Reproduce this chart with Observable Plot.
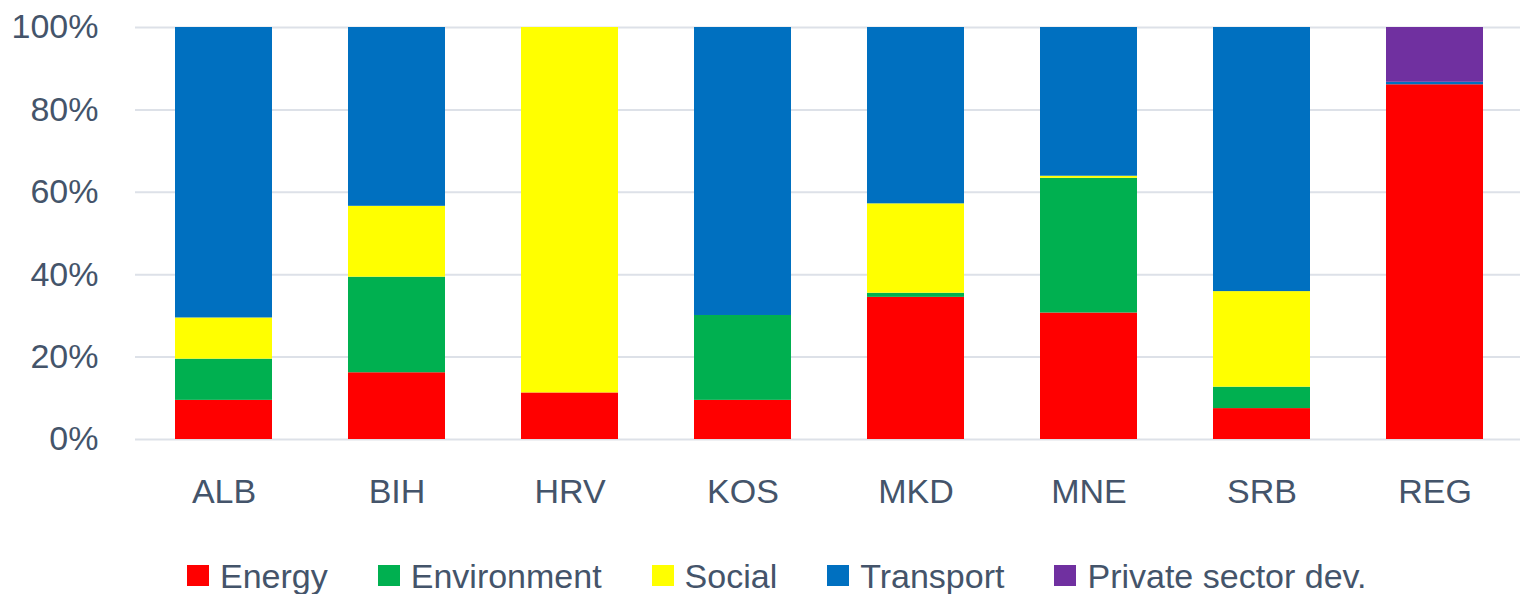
<!DOCTYPE html>
<html>
<head>
<meta charset="utf-8">
<script src="https://cdn.jsdelivr.net/npm/d3@7"></script>
<script src="https://cdn.jsdelivr.net/npm/@observablehq/plot@0.6"></script>
<style>
  html, body { margin: 0; padding: 0; background: #fff; }
  body { width: 1520px; height: 594px; overflow: hidden; font-family: "Liberation Sans", Arial, sans-serif; }
  #chart svg { display: block; }
  #legend { display: flex; align-items: center; margin-left: 187px; margin-top: 38px; color: #44546A; font-size: 34px; line-height: 1; height: 35px; }
  .item { display: flex; align-items: center; margin-right: 50px; }
  .sw { width: 22px; height: 21px; margin-right: 11px; }
</style>
</head>
<body>
<div id="chart"></div>
<div id="legend"></div>
<script>
const countries = ["ALB", "BIH", "HRV", "KOS", "MKD", "MNE", "SRB", "REG"];
const sectors = ["Energy", "Environment", "Social", "Transport", "Private sector dev."];
const colors = ["#FF0000", "#00B050", "#FFFF00", "#0070C0", "#7030A0"];
const energy      = [9.5, 16.2, 11.3, 9.5, 34.5, 30.7, 7.5, 86.1];
const environment = [10.0, 23.2, 0, 20.6, 1.0, 32.7, 5.2, 0];
const social      = [10.0, 17.2, 88.7, 0, 21.7, 0.5, 23.2, 0];
const transport   = [70.5, 43.4, 0, 69.9, 42.8, 36.1, 64.1, 0.6];
const privateDev  = [0, 0, 0, 0, 0, 0, 0, 13.3];
const yTicks = [0, 20, 40, 60, 80, 100];

const seriesValues = [energy, environment, social, transport, privateDev];
const rows = [];
sectors.forEach((s, i) => countries.forEach((c, j) => rows.push({country: c, sector: s, value: seriesValues[i][j]})));

const textColor = "#44546A";
const chart = Plot.plot({
  width: 1520,
  height: 520,
  marginTop: 27,
  marginBottom: 81,
  marginLeft: 135,
  marginRight: 0,
  style: {fontFamily: "'Liberation Sans', Arial, sans-serif", fontSize: "34px", color: textColor, background: "#fff"},
  x: {domain: countries, range: [138, 1520], paddingInner: 0.44, paddingOuter: 0.193, label: null, tickSize: 0, tickPadding: 39},
  y: {domain: [0, 100], ticks: yTicks, tickFormat: d => d + "%", label: null, tickSize: 0, tickPadding: 37},
  color: {domain: sectors, range: colors},
  marks: [
    Plot.ruleY(yTicks, {stroke: "#DDE1E8", strokeWidth: 2}),
    Plot.barY(rows, {x: "country", y: "value", fill: "sector", z: "sector", order: sectors}),
    Plot.axisX({tickSize: 0, tickPadding: 39, fill: textColor}),
    Plot.axisY({ticks: yTicks, tickFormat: d => d + "%", tickSize: 0, tickPadding: 37, fill: textColor})
  ]
});
document.getElementById("chart").appendChild(chart);

const legend = document.getElementById("legend");
sectors.forEach((s, i) => {
  const item = document.createElement("div");
  item.className = "item";
  const sw = document.createElement("div");
  sw.className = "sw";
  sw.style.background = colors[i];
  const t = document.createElement("span");
  t.textContent = s;
  item.appendChild(sw);
  item.appendChild(t);
  legend.appendChild(item);
});
</script>
</body>
</html>
